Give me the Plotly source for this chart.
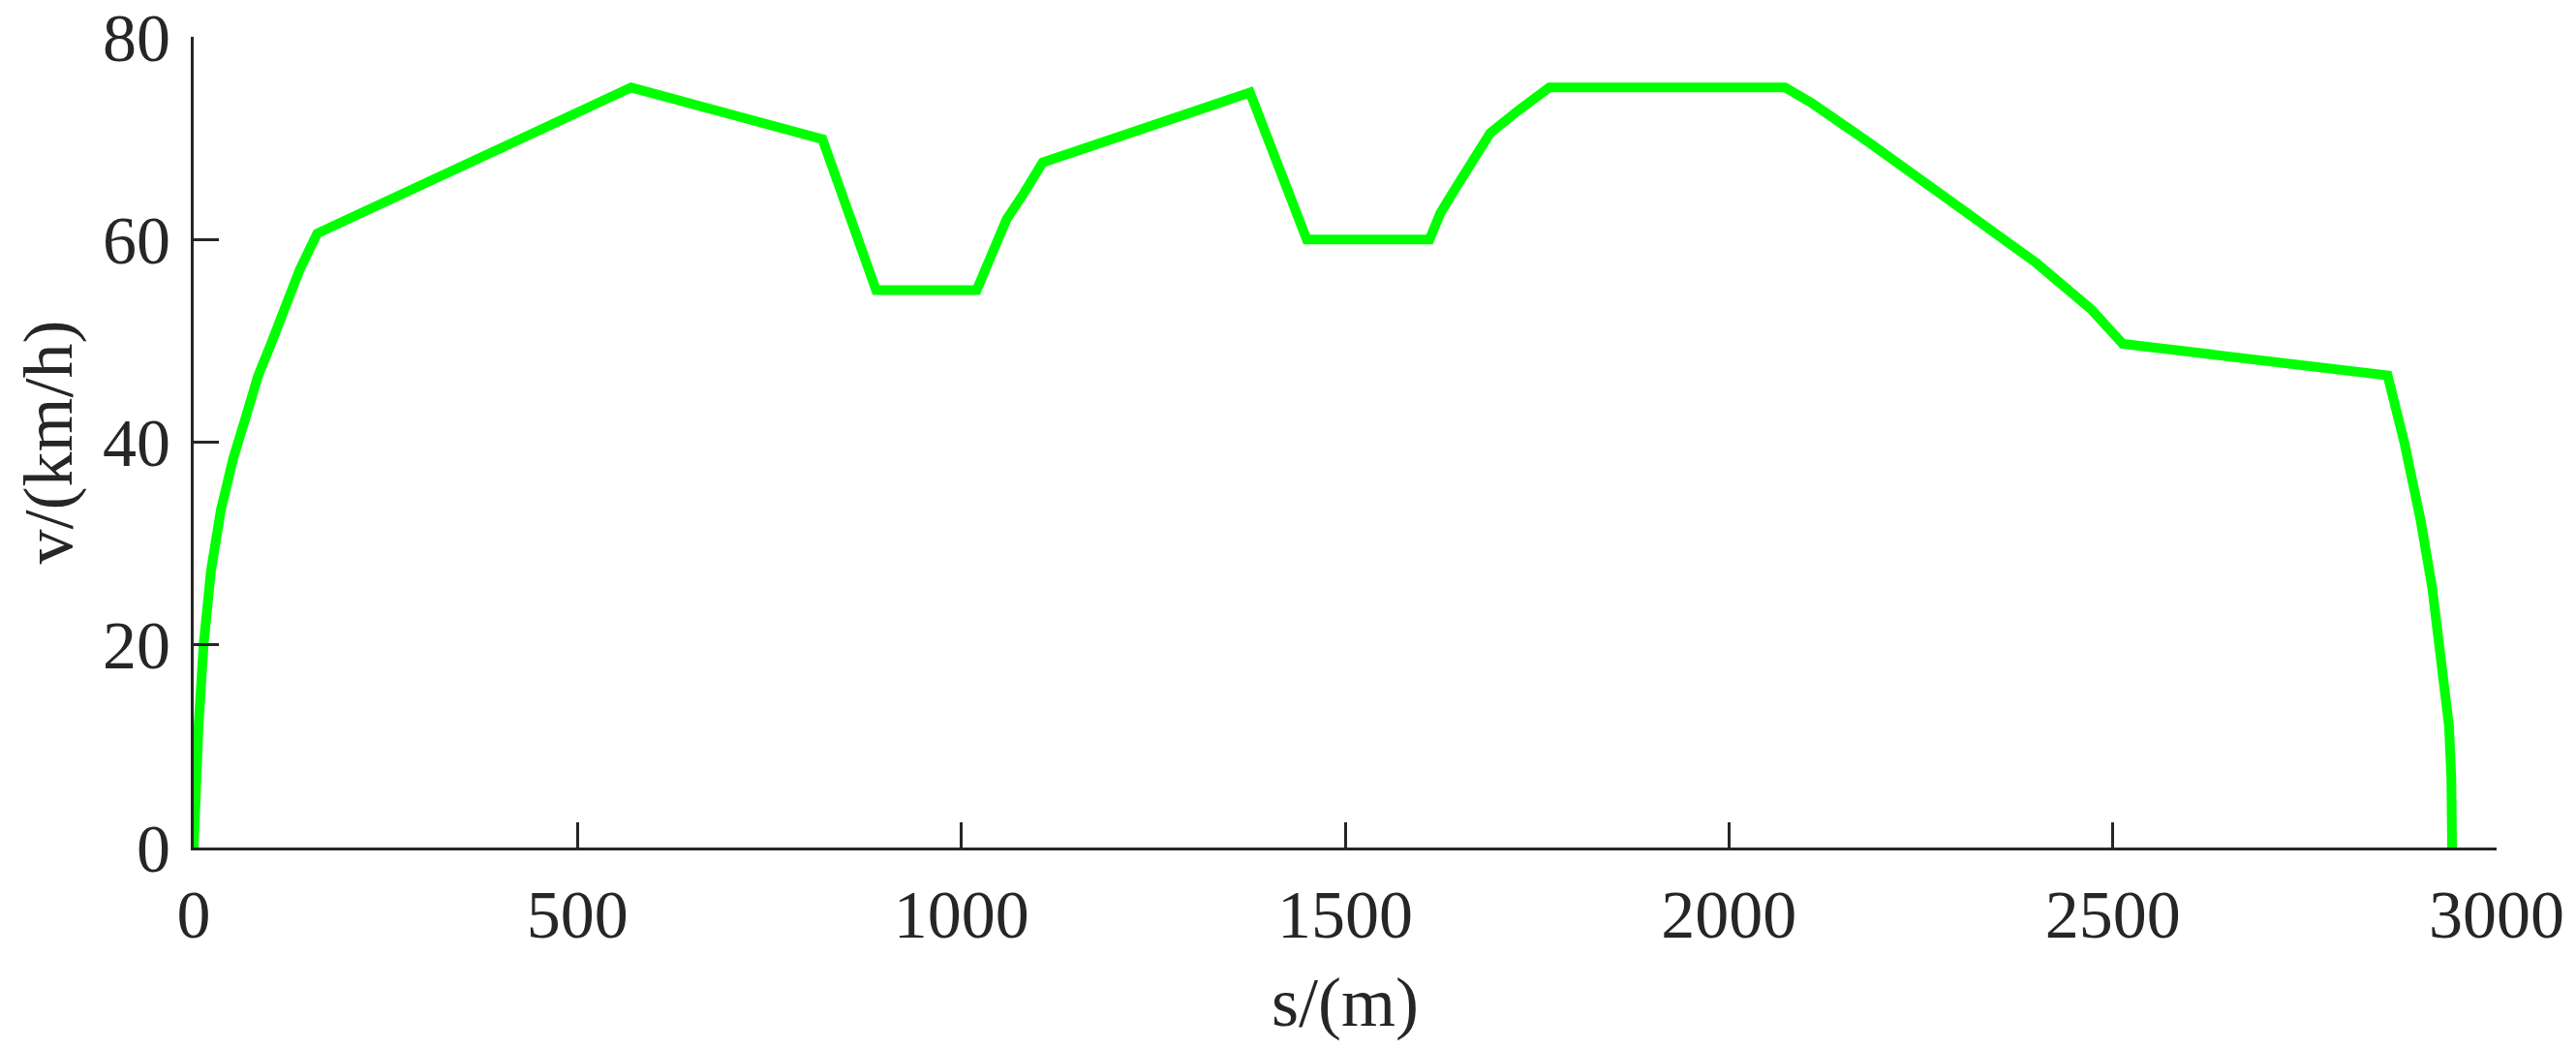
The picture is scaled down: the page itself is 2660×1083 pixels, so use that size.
import plotly.graph_objects as go

# distance along the line (m)
s_m = [0, 2, 6.4, 12.9, 22.5, 35.4, 51.5, 67.6, 83.7, 99.7, 115.8, 138, 161,
       570, 819, 889, 1020, 1037, 1059, 1081, 1106, 1376, 1450, 1610, 1624,
       1645, 1667, 1689, 1725, 1766, 2073, 2109, 2182, 2254, 2327, 2400, 2472,
       2513, 2858, 2880, 2901, 2916, 2931, 2938, 2941, 2942]
# speed (km/h)
v_kmh = [0, 6, 12.1, 20, 27.3, 33.3, 38.4, 42.4, 46.5, 49.5, 52.5, 57, 60.6,
         75, 69.9, 55, 55, 58.1, 62.0, 64.5, 67.6, 74.5, 60, 60, 62.6,
         65.2, 67.7, 70.5, 72.7, 75, 75, 73.4, 69.6, 65.8, 61.7, 57.7, 53.1,
         49.7, 46.6, 39.9, 32.3, 25.7, 17.1, 12.0, 6.9, 0]

x_ticks = [0, 500, 1000, 1500, 2000, 2500, 3000]
y_ticks = [0, 20, 40, 60, 80]

axis_color = "#262626"
font_family = "Liberation Serif, Times New Roman, serif"

fig = go.Figure()
fig.add_trace(go.Scatter(
    x=s_m, y=v_kmh, mode="lines",
    line=dict(color="#00FF00", width=10),
    showlegend=False,
))

common = dict(
    showline=True, linecolor=axis_color, linewidth=3,
    ticks="inside", ticklen=26, tickwidth=3, tickcolor=axis_color,
    showgrid=False, zeroline=False,
    tickfont=dict(family=font_family, size=70, color=axis_color),
    title_font=dict(family=font_family, size=72, color=axis_color),
    mirror=False, automargin=False, ticklabeloverflow="allow",
)

fig.update_layout(
    width=2644, height=1067,
    margin=dict(l=192, r=74, t=30, b=200),
    paper_bgcolor="white", plot_bgcolor="white",
    xaxis=dict(range=[0, 3000], tickvals=x_ticks,
               ticktext=[str(t) for t in x_ticks],
               title=dict(text="s/(m)", standoff=33),
               ticklabelstandoff=6, **common),
    yaxis=dict(range=[0, 80.0001], tickvals=y_ticks,
               ticktext=[str(t) for t in y_ticks],
               title=dict(text="v/(km/h)", standoff=8),
               ticklabelstandoff=7, **common),
)

fig.write_html("out.html")
